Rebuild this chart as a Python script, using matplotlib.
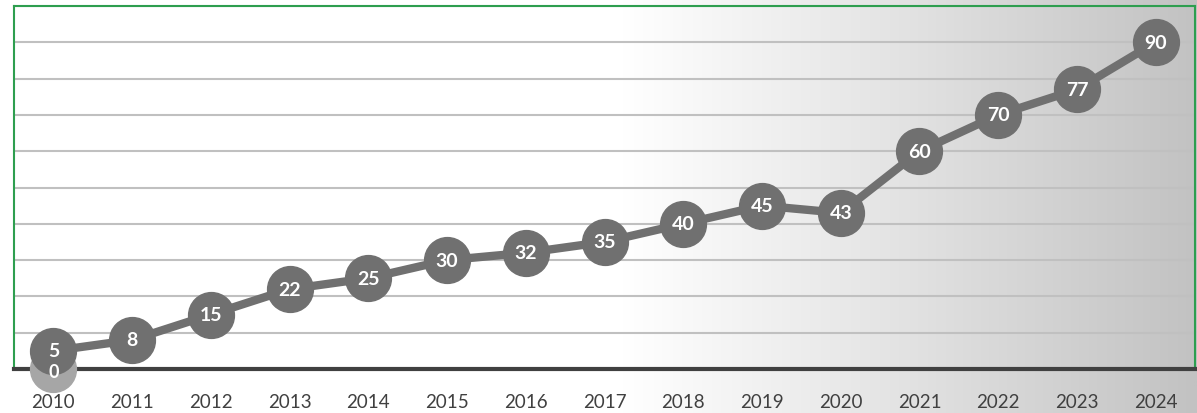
import numpy as np
import matplotlib
matplotlib.use("Agg")
import matplotlib.pyplot as plt
from matplotlib.colors import LinearSegmentedColormap

years = ["2010", "2011", "2012", "2013", "2014", "2015", "2016", "2017",
         "2018", "2019", "2020", "2021", "2022", "2023", "2024"]
values = [5, 8, 15, 22, 25, 30, 32, 35, 40, 45, 43, 60, 70, 77, 90]
base_years = ["2010"]
base_values = [0]

plt.rcParams['font.family'] = ['Lato', 'DejaVu Sans']

fig = plt.figure(figsize=(11.97, 4.14), dpi=100)

# background gradient (figure-level)
bg = fig.add_axes([0, 0, 1, 1], zorder=0)
grad = np.linspace(0, 1, 600)
grad = np.clip((grad - 0.52) / 0.48, 0, 1)
cmap = LinearSegmentedColormap.from_list("g", ["#ffffff", "#e2e2e2", "#c2c2c2"])
bg.imshow(grad[np.newaxis, :], aspect="auto", cmap=cmap, extent=[0, 1, 0, 1], vmin=0, vmax=1)
bg.set_axis_off()

ax = fig.add_axes([14/1197, 1 - 370/414, (1195-14)/1197, (370-7)/414], zorder=1)
ax.patch.set_alpha(0)

x = np.arange(len(years))
ax.set_xlim(-0.5, len(years) - 0.5)
ax.set_ylim(0, 100)
ax.set_yticks(np.arange(0, 101, 10))
ax.yaxis.grid(True, color="#c0c0c0", linewidth=1.5)
ax.set_axisbelow(True)
ax.tick_params(axis="y", left=False, labelleft=False)
ax.set_xticks(x)
ax.set_xticklabels(years, fontsize=13.5, color="#404040")
ax.tick_params(axis="x", length=0, pad=17)

for s in ["left", "top", "right"]:
    ax.spines[s].set_color("#2e9e4f")
    ax.spines[s].set_linewidth(1.5)
ax.spines["bottom"].set_color("#404040")
ax.spines["bottom"].set_linewidth(3)

bx = [years.index(y) for y in base_years]
ax.plot(bx, base_values, "o", color="#a6a6a6", markersize=33, zorder=3, clip_on=False)
for xi, v in zip(bx, base_values):
    ax.text(xi, v - 0.8, str(v), color="white", fontsize=13, fontweight="bold",
            ha="center", va="center", zorder=8)

ax.plot(x, values, "-o", color="#707070", linewidth=6, markersize=33, zorder=5, clip_on=False)
for xi, v in zip(x, values):
    ax.text(xi, v, str(v), color="white", fontsize=14, fontweight="bold",
            ha="center", va="center", zorder=6)

fig.savefig("out.png", dpi=100)
